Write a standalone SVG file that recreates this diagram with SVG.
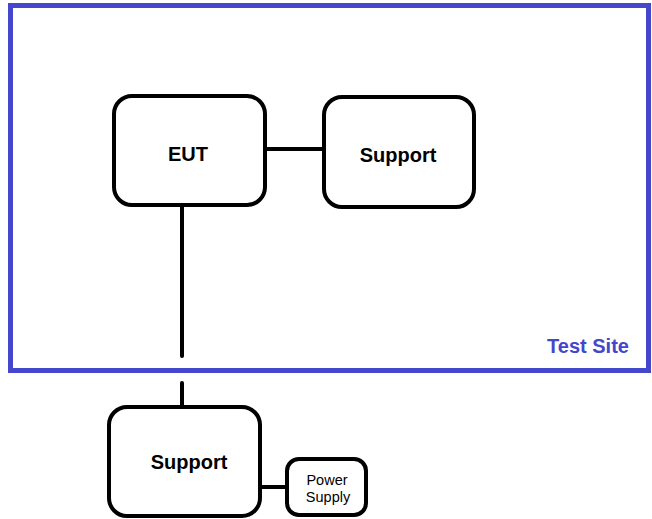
<svg xmlns="http://www.w3.org/2000/svg" width="652" height="519" viewBox="0 0 652 519">
<style>
.node{fill:#fff;stroke:#000;stroke-width:4}
.lbl{font-family:"Liberation Sans",Arial,sans-serif;font-weight:bold;font-size:20px;text-anchor:middle;fill:#000}
.small{font-family:"Liberation Sans",Arial,sans-serif;font-size:14.5px;text-anchor:middle;fill:#000}
.conn{stroke:#000;stroke-width:4;fill:none;stroke-linecap:round}
</style>
<rect width="652" height="519" fill="#fff"/>
<g id="test-site">
<rect x="10.5" y="5.5" width="638" height="365" fill="none" stroke="#4446cc" stroke-width="5"/>
<text x="588" y="353" class="lbl" style="fill:#4446cc">Test Site</text>
</g>
<g id="connectors">
<line class="conn" x1="267" y1="149" x2="322" y2="149"/>
<line class="conn" x1="182" y1="207" x2="182" y2="356"/>
<line class="conn" x1="182" y1="383" x2="182" y2="406"/>
<line class="conn" x1="262" y1="487" x2="286" y2="487"/>
</g>
<g id="eut">
<rect class="node" x="114" y="96" width="151" height="109" rx="18"/>
<text x="188" y="161" class="lbl">EUT</text>
</g>
<g id="support-top">
<rect class="node" x="324" y="97" width="150" height="110" rx="18"/>
<text x="398" y="162" class="lbl">Support</text>
</g>
<g id="support-bottom">
<rect class="node" x="109" y="407" width="151" height="109" rx="18"/>
<text x="189" y="469" class="lbl">Support</text>
</g>
<g id="power-supply">
<rect class="node" x="287" y="459" width="79" height="56" rx="12"/>
<text x="327" y="485" class="small">Power</text>
<text x="328" y="502" class="small">Supply</text>
</g>
</svg>
